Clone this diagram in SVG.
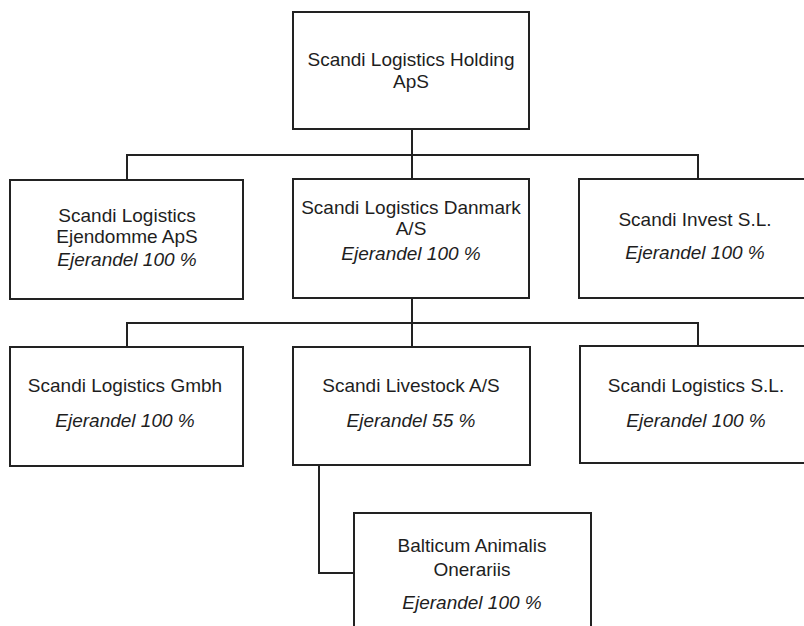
<svg xmlns="http://www.w3.org/2000/svg" width="804" height="626" viewBox="0 0 804 626">
<style>
.box{fill:#fff;stroke:#222;stroke-width:2}
.ln{fill:none;stroke:#222;stroke-width:2}
text{font-family:"Liberation Sans",Arial,sans-serif;font-size:19px;fill:#1e1e1e;text-anchor:middle}
.it{font-style:italic}
</style>
<rect width="804" height="626" fill="#fff"/>
<g id="connectors">
<path class="ln" d="M412 129V180M127 180V155H698V180"/>
<path class="ln" d="M412 298V347M127 347V323H698V346"/>
<path class="ln" d="M319 465V573H354"/>
</g>
<g id="holding">
<rect class="box" x="293" y="12" width="236" height="117"/>
<text x="411" y="66">Scandi Logistics Holding</text>
<text x="411" y="88">ApS</text>
</g>
<g id="ejendomme">
<rect class="box" x="10" y="180" width="233" height="119"/>
<text x="127" y="222">Scandi Logistics</text>
<text x="127" y="243">Ejendomme ApS</text>
<text class="it" x="127" y="266">Ejerandel 100 %</text>
</g>
<g id="danmark">
<rect class="box" x="293" y="179" width="236" height="119"/>
<text x="411" y="214">Scandi Logistics Danmark</text>
<text x="411" y="235">A/S</text>
<text class="it" x="411" y="260">Ejerandel 100 %</text>
</g>
<g id="invest">
<rect class="box" x="579" y="179" width="240" height="119"/>
<text x="695" y="226">Scandi Invest S.L.</text>
<text class="it" x="695" y="259">Ejerandel 100 %</text>
</g>
<g id="gmbh">
<rect class="box" x="10" y="347" width="233" height="119"/>
<text x="125" y="392">Scandi Logistics Gmbh</text>
<text class="it" x="125" y="427">Ejerandel 100 %</text>
</g>
<g id="livestock">
<rect class="box" x="293" y="347" width="237" height="118"/>
<text x="411" y="392">Scandi Livestock A/S</text>
<text class="it" x="411" y="427">Ejerandel 55 %</text>
</g>
<g id="logistics-sl">
<rect class="box" x="580" y="346" width="240" height="117"/>
<text x="696" y="392">Scandi Logistics S.L.</text>
<text class="it" x="696" y="427">Ejerandel 100 %</text>
</g>
<g id="balticum">
<rect class="box" x="354" y="513" width="237" height="130"/>
<text x="472" y="552">Balticum Animalis</text>
<text x="472" y="576">Onerariis</text>
<text class="it" x="472" y="609">Ejerandel 100 %</text>
</g>
</svg>
